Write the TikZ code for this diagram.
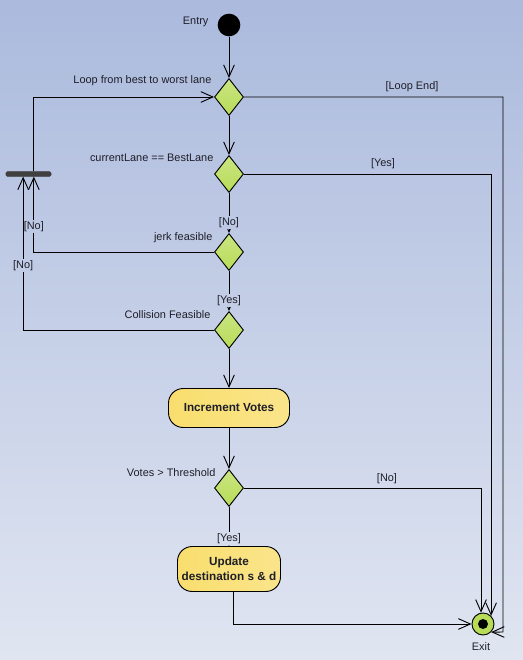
\documentclass[tikz,border=0pt]{standalone}
\usepackage{fontspec}
\setmainfont{Liberation Sans}
\usetikzlibrary{shapes.geometric,arrows.meta}
\definecolor{bgtop}{RGB}{171,186,221}
\definecolor{bgbot}{RGB}{224,229,241}
\definecolor{dgreen}{RGB}{184,220,88}
\definecolor{ylw}{RGB}{249,222,110}
\definecolor{txt}{RGB}{30,30,40}
\begin{document}
\begin{tikzpicture}[
    x=0.75pt,y=-0.75pt,
    decision/.style={diamond,draw,line width=0.7pt,top color=dgreen!75!white,bottom color=dgreen,minimum width=21.75pt,minimum height=27.75pt,inner sep=0pt},
    action/.style={draw,line width=0.7pt,rounded corners=11pt,left color=ylw,right color=ylw!80!white,align=center,font=\fontsize{8.8}{11}\selectfont\bfseries,text=txt},
    note/.style={font=\fontsize{8.2}{9.5}\selectfont,text=txt,inner sep=1pt},
    guard/.style={note,inner sep=1pt},
    flow/.style={-{Straight Barb[length=9pt,width=8pt]},line width=0.7pt}
]
% background
\shade[top color=bgtop,bottom color=bgbot] (0,0) rectangle (523,660);
\useasboundingbox (0,0) rectangle (523,660);

% start / fork / end
\node[circle,fill=black,minimum size=17pt,inner sep=0pt] (entry) at (229,25) {};
\node[note,anchor=east] at (210,22) {Entry};
\node[draw=black!75,fill=black!75,minimum width=33.75pt,minimum height=3.5pt,inner sep=0pt,rounded corners=1pt] (bar) at (28.5,174) {};
\node[circle,draw,line width=0.7pt,fill=dgreen,minimum size=16.5pt,inner sep=0pt] (exit) at (483,624) {};
\fill (exit.center) circle (3.75pt);
\node[note] at (481,647) {Exit};

% decisions
\node[decision] (loop) at (229,97) {};
\node[note,anchor=east] at (213,81) {Loop from best to worst lane};
\node[decision] (same) at (229,174) {};
\node[note,anchor=east] at (215,158) {currentLane == BestLane};
\node[decision] (jerk) at (229,252) {};
\node[note,anchor=east] at (214,238) {jerk feasible};
\node[decision] (coll) at (229,330) {};
\node[note,anchor=east] at (212,315) {Collision Feasible};
\node[decision] (votes) at (229,488) {};
\node[note,anchor=east] at (217,473) {Votes > Threshold};

% actions
\node[action,minimum width=90.75pt,minimum height=29.25pt] (incr) at (229,408) {Increment Votes};
\node[action,minimum width=77.25pt,minimum height=33.75pt,inner sep=2pt] (upd) at (229,569) {Update\\destination s \& d};

% main flow
\draw[flow] (entry) -- (loop);
\draw[flow] (loop) -- (same);
\draw[flow] (same) -- (jerk) node[guard,pos=0.74,fill=bgbot!34!bgtop] {[No]};
\draw[flow] (jerk) -- (coll) node[guard,pos=0.74,fill=bgbot!46!bgtop] {[Yes]};
\draw[flow] (coll) -- (incr);
\draw[flow] (incr) -- (votes);
\draw[flow] (votes) -- (upd) node[guard,pos=0.8,fill=bgbot!82!bgtop] {[Yes]};
\draw[flow] ([xshift=3pt]upd.south) |- (exit.west);

% loop back
\draw[flow] (jerk.west) -| ([xshift=4pt]bar.south) node[guard,pos=0.67,fill=bgbot!34!bgtop] {[No]};
\draw[flow] (coll.west) -| ([xshift=-4pt]bar.south) node[guard,pos=0.71,fill=bgbot!40!bgtop] {[No]};
\draw[flow] ([xshift=4pt]bar.north) |- (loop.west);

% exits on the right
\coordinate (loopR) at (503,632);
\draw[flow] (loop.east) -| (loopR) -- (exit.-45);
\node[note] at (412,87) {[Loop End]};
\draw[flow] (same.east) -| (exit.45);
\node[note] at (383,164) {[Yes]};
\draw[flow] (votes.east) -| (exit.100);
\node[note] at (387,479) {[No]};
\end{tikzpicture}
\end{document}
